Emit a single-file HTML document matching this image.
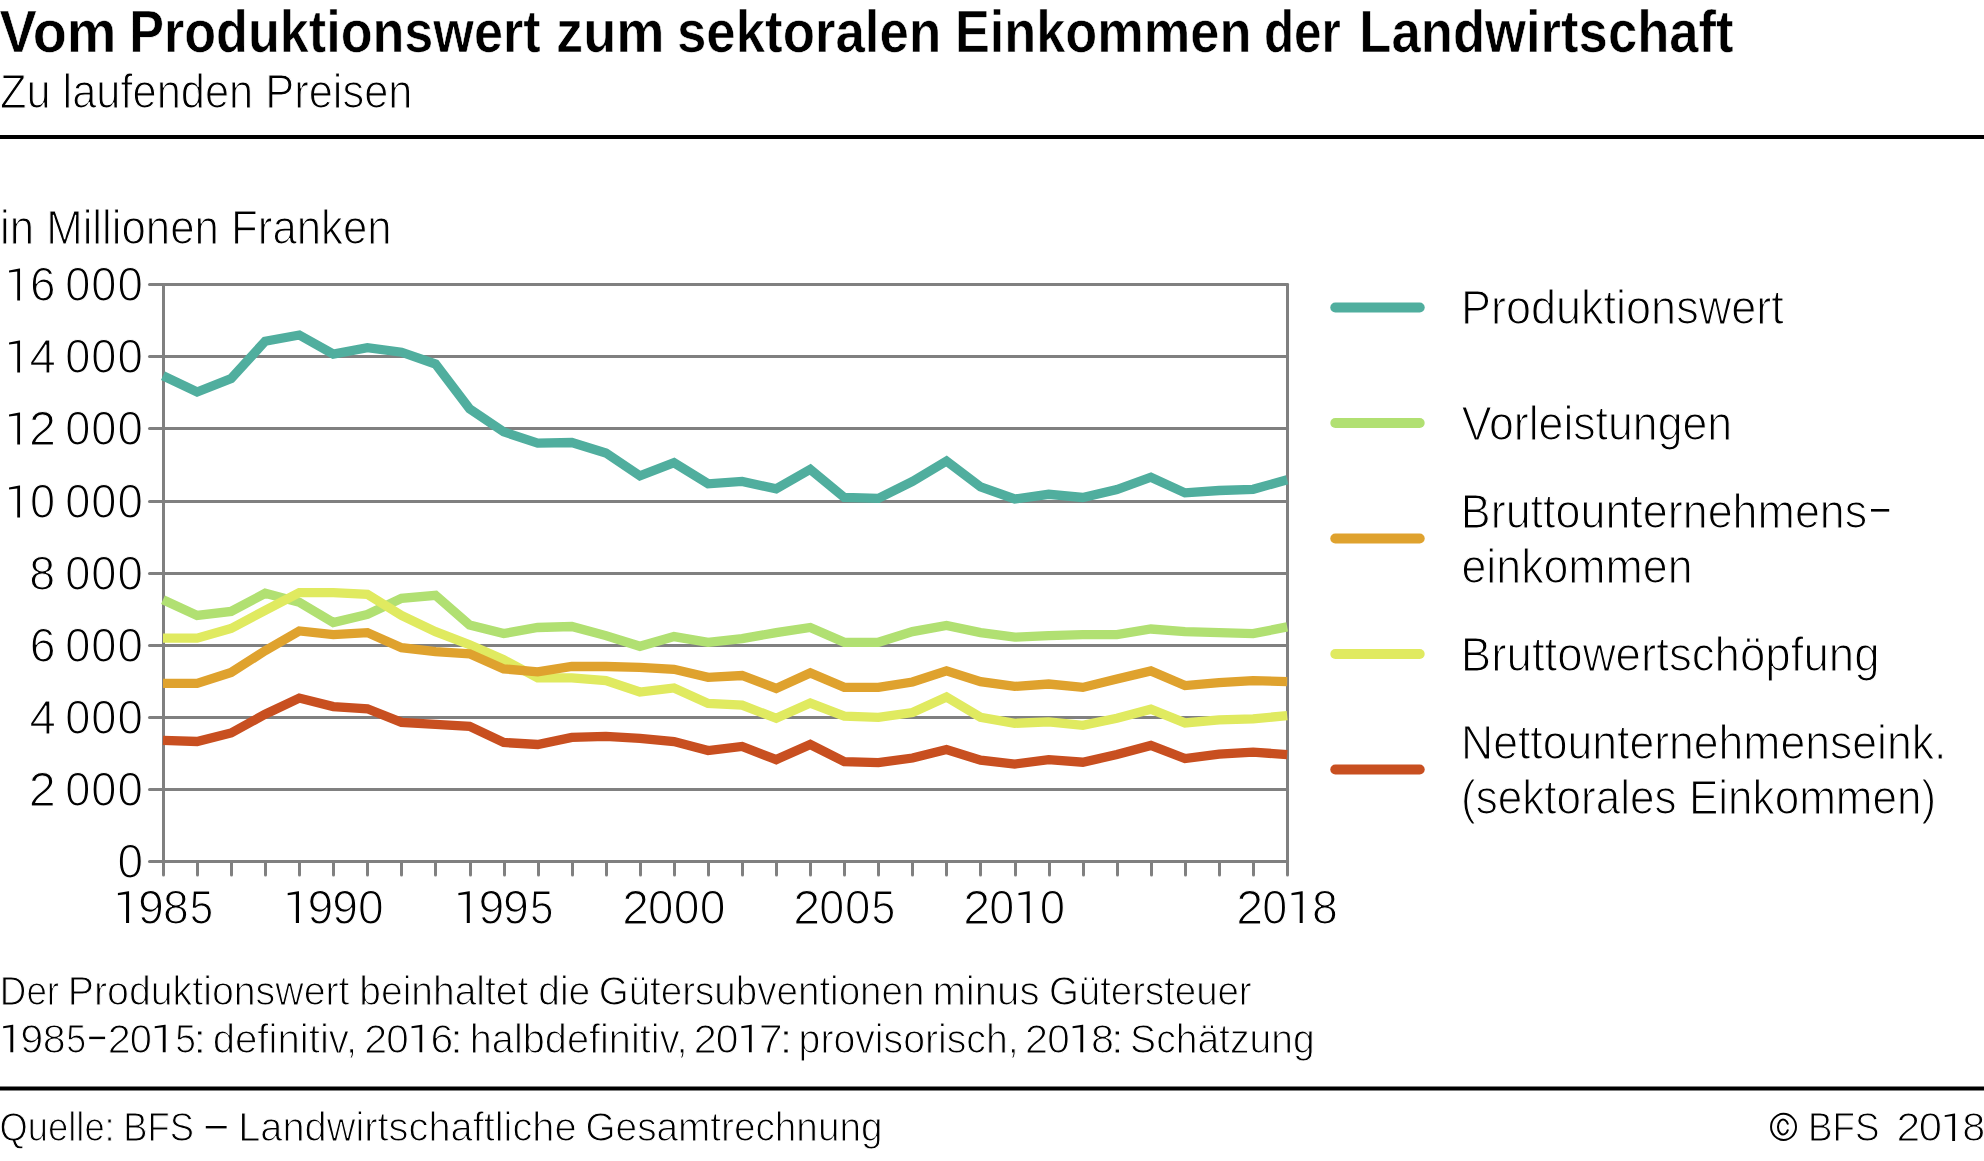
<!DOCTYPE html>
<html lang="de">
<head>
<meta charset="utf-8">
<title>Vom Produktionswert zum sektoralen Einkommen der Landwirtschaft</title>
<style>
html,body{margin:0;padding:0;background:#fff;}
body{width:1984px;height:1161px;overflow:hidden;}
svg{display:block;will-change:transform;}
text{font-family:"Liberation Sans",sans-serif;fill:#000;stroke:#fff;}
.t{font-weight:bold;font-size:58.3px;stroke-width:0.6px;}
.b{font-size:47.6px;stroke-width:1.2px;}
.s{font-size:41.2px;stroke-width:1.1px;}
.d{word-spacing:-1.6px;}
</style>
</head>
<body>
<svg width="1984" height="1161" viewBox="0 0 1984 1161">
<rect x="0" y="0" width="1984" height="1161" fill="#fff"/>

<rect x="0" y="135" width="1984" height="4" fill="#000"/>
<rect x="0" y="1086.5" width="1984" height="4" fill="#000"/>
<text class="b" x="-0.12" y="108.10" textLength="412.52" lengthAdjust="spacingAndGlyphs">Zu laufenden Preisen</text>
<text class="b" x="-0.07" y="244.30" textLength="391.71" lengthAdjust="spacingAndGlyphs">in Millionen Franken</text>
<text class="b" x="1461.01" y="324.40" textLength="322.65" lengthAdjust="spacingAndGlyphs">Produktionswert</text>
<text class="b" x="1461.64" y="439.90" textLength="270.55" lengthAdjust="spacingAndGlyphs">Vorleistungen</text>
<text class="b" x="1460.84" y="527.80" textLength="406.37" lengthAdjust="spacingAndGlyphs">Bruttounternehmens</text>
<text class="b" x="1461.48" y="583.20" textLength="231.14" lengthAdjust="spacingAndGlyphs">einkommen</text>
<text class="b" x="1460.87" y="670.90" textLength="418.69" lengthAdjust="spacingAndGlyphs">Bruttowertschöpfung</text>
<text class="b" x="1460.96" y="758.60" textLength="485.45" lengthAdjust="spacingAndGlyphs">Nettounternehmenseink.</text>
<text class="b" x="1461.08" y="814.00" textLength="475.22" lengthAdjust="spacingAndGlyphs">(sektorales Einkommen)</text>
<text class="t" x="-0.46" y="51.90" textLength="116.91" lengthAdjust="spacingAndGlyphs">Vom</text>
<text class="t" x="129.18" y="51.90" textLength="411.39" lengthAdjust="spacingAndGlyphs">Produktionswert</text>
<text class="t" x="556.09" y="51.90" textLength="108.47" lengthAdjust="spacingAndGlyphs">zum</text>
<text class="t" x="676.94" y="51.90" textLength="264.23" lengthAdjust="spacingAndGlyphs">sektoralen</text>
<text class="t" x="954.90" y="51.90" textLength="296.54" lengthAdjust="spacingAndGlyphs">Einkommen</text>
<text class="t" x="1263.88" y="51.90" textLength="76.99" lengthAdjust="spacingAndGlyphs">der</text>
<text class="t" x="1359.33" y="51.90" textLength="374.30" lengthAdjust="spacingAndGlyphs">Landwirtschaft</text>
<text class="s" x="-0.16" y="1005.15" textLength="59.22" lengthAdjust="spacingAndGlyphs">Der</text>
<text class="s" x="67.75" y="1005.15" textLength="281.74" lengthAdjust="spacingAndGlyphs">Produktionswert</text>
<text class="s" x="359.31" y="1005.15" textLength="169.02" lengthAdjust="spacingAndGlyphs">beinhaltet</text>
<text class="s" x="538.23" y="1005.15" textLength="51.98" lengthAdjust="spacingAndGlyphs">die</text>
<text class="s" x="598.67" y="1005.15" textLength="325.76" lengthAdjust="spacingAndGlyphs">Gütersubventionen</text>
<text class="s" x="932.41" y="1005.15" textLength="107.13" lengthAdjust="spacingAndGlyphs">minus</text>
<text class="s" x="1048.93" y="1005.15" textLength="202.74" lengthAdjust="spacingAndGlyphs">Gütersteuer</text>
<text class="s" x="212.69" y="1052.55" textLength="144.40" lengthAdjust="spacingAndGlyphs">definitiv,</text>
<text class="s" x="469.74" y="1052.55" textLength="217.85" lengthAdjust="spacingAndGlyphs">halbdefinitiv,</text>
<text class="s" x="798.62" y="1052.55" textLength="220.04" lengthAdjust="spacingAndGlyphs">provisorisch,</text>
<text class="s" x="1130.10" y="1052.55" textLength="184.55" lengthAdjust="spacingAndGlyphs">Schätzung</text>
<text class="s" x="-0.39" y="1141.45" textLength="115.06" lengthAdjust="spacingAndGlyphs">Quelle:</text>
<text class="s" x="123.36" y="1141.45" textLength="70.74" lengthAdjust="spacingAndGlyphs">BFS</text>
<text class="s" x="238.18" y="1141.45" textLength="338.46" lengthAdjust="spacingAndGlyphs">Landwirtschaftliche</text>
<text class="s" x="585.49" y="1141.45" textLength="297.01" lengthAdjust="spacingAndGlyphs">Gesamtrechnung</text>
<text class="s" x="1808.05" y="1141.45" textLength="71.47" lengthAdjust="spacingAndGlyphs">BFS</text>
<rect x="1871" y="509" width="18.2" height="2.6" fill="#000"/>
<rect x="205.8" y="1126" width="20.8" height="2.4" fill="#000"/>
<g stroke="#808080" stroke-width="3" fill="none" stroke-linecap="round">
<line x1="149.5" y1="284.5" x2="1287.5" y2="284.5"/>
<line x1="149.5" y1="356.5" x2="1287.5" y2="356.5"/>
<line x1="149.5" y1="428.5" x2="1287.5" y2="428.5"/>
<line x1="149.5" y1="501.5" x2="1287.5" y2="501.5"/>
<line x1="149.5" y1="573.5" x2="1287.5" y2="573.5"/>
<line x1="149.5" y1="645.5" x2="1287.5" y2="645.5"/>
<line x1="149.5" y1="717.5" x2="1287.5" y2="717.5"/>
<line x1="149.5" y1="789.5" x2="1287.5" y2="789.5"/>
<line x1="149.5" y1="861.5" x2="1287.5" y2="861.5"/>
<line x1="163.5" y1="284.5" x2="163.5" y2="875.1"/>
<line x1="1287.5" y1="284.5" x2="1287.5" y2="875.1"/>
<line x1="197.5" y1="861.5" x2="197.5" y2="875.1"/>
<line x1="231.5" y1="861.5" x2="231.5" y2="875.1"/>
<line x1="265.5" y1="861.5" x2="265.5" y2="875.1"/>
<line x1="299.5" y1="861.5" x2="299.5" y2="875.1"/>
<line x1="333.5" y1="861.5" x2="333.5" y2="875.1"/>
<line x1="367.5" y1="861.5" x2="367.5" y2="875.1"/>
<line x1="401.5" y1="861.5" x2="401.5" y2="875.1"/>
<line x1="435.5" y1="861.5" x2="435.5" y2="875.1"/>
<line x1="470.5" y1="861.5" x2="470.5" y2="875.1"/>
<line x1="504.5" y1="861.5" x2="504.5" y2="875.1"/>
<line x1="538.5" y1="861.5" x2="538.5" y2="875.1"/>
<line x1="572.5" y1="861.5" x2="572.5" y2="875.1"/>
<line x1="606.5" y1="861.5" x2="606.5" y2="875.1"/>
<line x1="640.5" y1="861.5" x2="640.5" y2="875.1"/>
<line x1="674.5" y1="861.5" x2="674.5" y2="875.1"/>
<line x1="708.5" y1="861.5" x2="708.5" y2="875.1"/>
<line x1="742.5" y1="861.5" x2="742.5" y2="875.1"/>
<line x1="776.5" y1="861.5" x2="776.5" y2="875.1"/>
<line x1="810.5" y1="861.5" x2="810.5" y2="875.1"/>
<line x1="844.5" y1="861.5" x2="844.5" y2="875.1"/>
<line x1="878.5" y1="861.5" x2="878.5" y2="875.1"/>
<line x1="912.5" y1="861.5" x2="912.5" y2="875.1"/>
<line x1="946.5" y1="861.5" x2="946.5" y2="875.1"/>
<line x1="980.5" y1="861.5" x2="980.5" y2="875.1"/>
<line x1="1015.5" y1="861.5" x2="1015.5" y2="875.1"/>
<line x1="1049.5" y1="861.5" x2="1049.5" y2="875.1"/>
<line x1="1083.5" y1="861.5" x2="1083.5" y2="875.1"/>
<line x1="1117.5" y1="861.5" x2="1117.5" y2="875.1"/>
<line x1="1151.5" y1="861.5" x2="1151.5" y2="875.1"/>
<line x1="1185.5" y1="861.5" x2="1185.5" y2="875.1"/>
<line x1="1219.5" y1="861.5" x2="1219.5" y2="875.1"/>
<line x1="1253.5" y1="861.5" x2="1253.5" y2="875.1"/>
</g>
<polygon points="20.04,300.40 20.04,268.60 19.24,268.60 9.05,270.40 9.05,272.50 17.24,271.50 17.24,300.40" fill="#000"/>
<text class="b" transform="translate(30.07,300.85) scale(0.9652,1)">6</text>
<text class="b" transform="translate(65.28,300.85) scale(0.9497,1)">0</text>
<text class="b" transform="translate(91.33,300.85) scale(0.9493,1)">0</text>
<text class="b" transform="translate(117.42,300.85) scale(0.9581,1)">0</text>
<polygon points="20.04,372.40 20.04,340.60 19.24,340.60 9.05,342.40 9.05,344.50 17.24,343.50 17.24,372.40" fill="#000"/>
<text class="b" transform="translate(29.61,372.85) scale(0.9964,1)">4</text>
<text class="b" transform="translate(65.28,372.85) scale(0.9497,1)">0</text>
<text class="b" transform="translate(91.33,372.85) scale(0.9493,1)">0</text>
<text class="b" transform="translate(117.42,372.85) scale(0.9581,1)">0</text>
<polygon points="20.04,444.40 20.04,412.60 19.24,412.60 9.05,414.40 9.05,416.50 17.24,415.50 17.24,444.40" fill="#000"/>
<text class="b" transform="translate(28.96,444.85) scale(1.0191,1)">2</text>
<text class="b" transform="translate(65.28,444.85) scale(0.9497,1)">0</text>
<text class="b" transform="translate(91.33,444.85) scale(0.9493,1)">0</text>
<text class="b" transform="translate(117.42,444.85) scale(0.9581,1)">0</text>
<polygon points="20.04,517.40 20.04,485.60 19.24,485.60 9.05,487.40 9.05,489.50 17.24,488.50 17.24,517.40" fill="#000"/>
<text class="b" transform="translate(30.03,517.85) scale(0.9493,1)">0</text>
<text class="b" transform="translate(65.28,517.85) scale(0.9497,1)">0</text>
<text class="b" transform="translate(91.33,517.85) scale(0.9493,1)">0</text>
<text class="b" transform="translate(117.42,517.85) scale(0.9581,1)">0</text>
<text class="b" transform="translate(29.13,589.85) scale(0.9783,1)">8</text>
<text class="b" transform="translate(65.28,589.85) scale(0.9497,1)">0</text>
<text class="b" transform="translate(91.33,589.85) scale(0.9493,1)">0</text>
<text class="b" transform="translate(117.42,589.85) scale(0.9581,1)">0</text>
<text class="b" transform="translate(29.69,661.85) scale(0.9766,1)">6</text>
<text class="b" transform="translate(65.28,661.85) scale(0.9497,1)">0</text>
<text class="b" transform="translate(91.33,661.85) scale(0.9493,1)">0</text>
<text class="b" transform="translate(117.42,661.85) scale(0.9581,1)">0</text>
<text class="b" transform="translate(29.41,733.85) scale(0.9964,1)">4</text>
<text class="b" transform="translate(65.28,733.85) scale(0.9497,1)">0</text>
<text class="b" transform="translate(91.33,733.85) scale(0.9493,1)">0</text>
<text class="b" transform="translate(117.42,733.85) scale(0.9581,1)">0</text>
<text class="b" transform="translate(28.70,805.85) scale(1.0214,1)">2</text>
<text class="b" transform="translate(65.28,805.85) scale(0.9497,1)">0</text>
<text class="b" transform="translate(91.33,805.85) scale(0.9493,1)">0</text>
<text class="b" transform="translate(117.42,805.85) scale(0.9581,1)">0</text>
<text class="b" transform="translate(117.40,877.85) scale(0.9669,1)">0</text>
<polygon points="129.08,923.05 129.08,891.25 128.28,891.25 117.90,893.05 117.90,895.15 126.05,894.15 126.05,923.05" fill="#000"/>
<text class="b" transform="translate(137.92,923.50) scale(0.9760,1)">9</text>
<text class="b" transform="translate(162.88,923.50) scale(0.9742,1)">8</text>
<text class="b" transform="translate(189.81,923.50) scale(0.8862,1)">5</text>
<polygon points="299.00,923.05 299.00,891.25 298.20,891.25 287.70,893.05 287.70,895.15 295.87,894.15 295.87,923.05" fill="#000"/>
<text class="b" transform="translate(307.43,923.50) scale(0.9710,1)">9</text>
<text class="b" transform="translate(332.23,923.50) scale(0.9710,1)">9</text>
<text class="b" transform="translate(357.90,923.50) scale(0.9699,1)">0</text>
<polygon points="469.80,923.05 469.80,891.25 469.00,891.25 458.40,893.05 458.40,895.15 466.80,894.15 466.80,923.05" fill="#000"/>
<text class="b" transform="translate(478.43,923.50) scale(0.9733,1)">9</text>
<text class="b" transform="translate(503.02,923.50) scale(0.9760,1)">9</text>
<text class="b" transform="translate(530.11,923.50) scale(0.8862,1)">5</text>
<text class="b" transform="translate(622.19,923.50) scale(1.0076,1)">2</text>
<text class="b" transform="translate(648.02,923.50) scale(0.9581,1)">0</text>
<text class="b" transform="translate(673.69,923.50) scale(0.9713,1)">0</text>
<text class="b" transform="translate(699.69,923.50) scale(0.9713,1)">0</text>
<text class="b" transform="translate(793.16,923.50) scale(1.0173,1)">2</text>
<text class="b" transform="translate(819.25,923.50) scale(0.9436,1)">0</text>
<text class="b" transform="translate(844.92,923.50) scale(0.9581,1)">0</text>
<text class="b" transform="translate(871.59,923.50) scale(0.8995,1)">5</text>
<text class="b" transform="translate(963.16,923.50) scale(1.0173,1)">2</text>
<text class="b" transform="translate(989.25,923.50) scale(0.9436,1)">0</text>
<polygon points="1029.70,923.05 1029.70,891.25 1028.90,891.25 1018.50,893.05 1018.50,895.15 1026.70,894.15 1026.70,923.05" fill="#000"/>
<text class="b" transform="translate(1039.72,923.50) scale(0.9581,1)">0</text>
<text class="b" transform="translate(1236.16,923.50) scale(1.0173,1)">2</text>
<text class="b" transform="translate(1262.25,923.50) scale(0.9436,1)">0</text>
<polygon points="1302.70,923.05 1302.70,891.25 1301.90,891.25 1291.50,893.05 1291.50,895.15 1299.70,894.15 1299.70,923.05" fill="#000"/>
<text class="b" transform="translate(1311.88,923.50) scale(0.9760,1)">8</text>
<polygon points="13.23,1052.20 13.23,1024.80 12.54,1024.80 3.18,1026.35 3.18,1028.16 10.37,1027.30 10.37,1052.20" fill="#000"/>
<text class="s" transform="translate(20.27,1052.60) scale(1.0031,1)">9</text>
<text class="s" transform="translate(42.64,1052.60) scale(0.9988,1)">8</text>
<text class="s" transform="translate(66.29,1052.60) scale(0.8688,1)">5</text>
<text class="s" transform="translate(107.67,1052.60) scale(1.0054,1)">2</text>
<text class="s" transform="translate(129.69,1052.60) scale(0.9683,1)">0</text>
<polygon points="165.64,1052.20 165.64,1024.80 164.95,1024.80 154.74,1026.35 154.74,1028.16 162.80,1027.30 162.80,1052.20" fill="#000"/>
<text class="s" transform="translate(175.26,1052.60) scale(0.9061,1)">5</text>
<text class="s" transform="translate(192.75,1052.60) scale(1.2236,1)">:</text>
<text class="s" transform="translate(364.26,1052.60) scale(1.0006,1)">2</text>
<text class="s" transform="translate(386.24,1052.60) scale(0.9800,1)">0</text>
<polygon points="422.23,1052.20 422.23,1024.80 421.54,1024.80 411.55,1026.35 411.55,1028.16 419.48,1027.30 419.48,1052.20" fill="#000"/>
<text class="s" transform="translate(430.40,1052.60) scale(0.9926,1)">6</text>
<text class="s" transform="translate(449.55,1052.60) scale(1.2236,1)">:</text>
<text class="s" transform="translate(693.72,1052.60) scale(1.0059,1)">2</text>
<text class="s" transform="translate(715.70,1052.60) scale(0.9906,1)">0</text>
<polygon points="751.70,1052.20 751.70,1024.80 751.01,1024.80 741.33,1026.35 741.33,1028.16 748.95,1027.30 748.95,1052.20" fill="#000"/>
<text class="s" transform="translate(758.68,1052.60) scale(1.0481,1)">7</text>
<text class="s" transform="translate(779.05,1052.60) scale(1.2236,1)">:</text>
<text class="s" transform="translate(1024.99,1052.60) scale(1.0059,1)">2</text>
<text class="s" transform="translate(1047.29,1052.60) scale(0.9805,1)">0</text>
<polygon points="1083.19,1052.20 1083.19,1024.80 1082.50,1024.80 1072.60,1026.35 1072.60,1028.16 1080.33,1027.30 1080.33,1052.20" fill="#000"/>
<text class="s" transform="translate(1090.89,1052.60) scale(1.0040,1)">8</text>
<text class="s" transform="translate(1110.53,1052.60) scale(1.1956,1)">:</text>
<text class="s" transform="translate(1896.59,1141.40) scale(1.0336,1)">2</text>
<text class="s" transform="translate(1918.72,1141.40) scale(1.0135,1)">0</text>
<polygon points="1955.06,1141.00 1955.06,1113.60 1954.37,1113.60 1944.75,1115.15 1944.75,1116.96 1952.18,1116.10 1952.18,1141.00" fill="#000"/>
<text class="s" transform="translate(1962.35,1141.40) scale(1.0035,1)">8</text>
<rect x="89.2" y="1036.7" width="15.9" height="2.4" fill="#000"/>
<ellipse cx="1783.53" cy="1126.82" rx="12.49" ry="13.1" fill="none" stroke="#000" stroke-width="1.96"/>
<path d="M1788.04 1124.41A5.2 7.5 0 1 0 1788.04 1129.55" fill="none" stroke="#000" stroke-width="2"/>
<polyline points="163.0,375.7 197.1,392.0 231.1,378.6 265.2,341.2 299.3,335.0 333.3,354.0 367.4,347.7 401.5,352.2 435.5,364.0 469.6,408.9 503.7,431.9 537.7,443.1 571.8,442.5 605.9,453.0 639.9,475.8 674.0,462.7 708.1,483.8 742.1,481.4 776.2,488.9 810.3,469.3 844.3,497.5 878.4,498.3 912.5,481.4 946.5,461.0 980.6,486.9 1014.7,499.0 1048.7,494.3 1082.8,497.5 1116.9,489.5 1150.9,477.2 1185.0,492.9 1219.1,490.5 1253.1,489.3 1287.2,479.8" fill="none" stroke="#50AE9E" stroke-width="9.3" stroke-linejoin="miter" stroke-miterlimit="10"/>
<polyline points="163.0,599.7 197.1,615.4 231.1,611.4 265.2,593.3 299.3,602.3 333.3,622.5 367.4,614.4 401.5,598.3 435.5,595.3 469.6,624.9 503.7,633.6 537.7,627.5 571.8,626.5 605.9,635.6 639.9,646.3 674.0,636.6 708.1,642.3 742.1,638.6 776.2,632.6 810.3,627.5 844.3,642.3 878.4,642.3 912.5,631.6 946.5,625.5 980.6,632.6 1014.7,637.2 1048.7,635.6 1082.8,634.6 1116.9,634.6 1150.9,629.0 1185.0,631.6 1219.1,632.6 1253.1,633.6 1287.2,626.9" fill="none" stroke="#B1E072" stroke-width="9.3" stroke-linejoin="miter" stroke-miterlimit="10"/>
<polyline points="163.0,638.2 197.1,638.2 231.1,628.5 265.2,610.4 299.3,592.7 333.3,592.7 367.4,594.3 401.5,615.4 435.5,631.6 469.6,644.7 503.7,659.8 537.7,677.9 571.8,677.9 605.9,680.6 639.9,692.0 674.0,688.0 708.1,703.5 742.1,705.2 776.2,718.3 810.3,703.1 844.3,716.2 878.4,717.3 912.5,712.6 946.5,697.1 980.6,717.3 1014.7,723.3 1048.7,721.9 1082.8,725.3 1116.9,718.3 1150.9,709.2 1185.0,722.9 1219.1,719.9 1253.1,718.9 1287.2,715.6" fill="none" stroke="#E0EA60" stroke-width="9.3" stroke-linejoin="miter" stroke-miterlimit="10"/>
<polyline points="163.0,683.4 197.1,683.4 231.1,672.5 265.2,650.7 299.3,631.0 333.3,634.6 367.4,632.6 401.5,647.7 435.5,651.7 469.6,653.8 503.7,668.9 537.7,671.9 571.8,666.5 605.9,666.5 639.9,667.3 674.0,669.3 708.1,677.3 742.1,675.5 776.2,688.4 810.3,672.9 844.3,687.4 878.4,687.4 912.5,682.0 946.5,670.9 980.6,681.6 1014.7,686.4 1048.7,684.0 1082.8,687.4 1116.9,679.0 1150.9,670.9 1185.0,685.6 1219.1,682.6 1253.1,680.6 1287.2,681.6" fill="none" stroke="#DFA22E" stroke-width="9.3" stroke-linejoin="miter" stroke-miterlimit="10"/>
<polyline points="163.0,740.4 197.1,741.5 231.1,733.0 265.2,714.2 299.3,698.1 333.3,706.6 367.4,708.8 401.5,722.3 435.5,724.3 469.6,726.3 503.7,742.5 537.7,744.5 571.8,737.4 605.9,736.4 639.9,738.4 674.0,741.5 708.1,750.5 742.1,746.5 776.2,759.6 810.3,744.5 844.3,761.6 878.4,762.6 912.5,758.0 946.5,749.5 980.6,760.2 1014.7,764.0 1048.7,759.6 1082.8,762.2 1116.9,754.6 1150.9,745.5 1185.0,758.6 1219.1,754.2 1253.1,752.1 1287.2,754.6" fill="none" stroke="#C84F20" stroke-width="9.3" stroke-linejoin="miter" stroke-miterlimit="10"/>
<line x1="1335.3" y1="307.5" x2="1419.7" y2="307.5" stroke="#50AE9E" stroke-width="10" stroke-linecap="round"/>
<line x1="1335.3" y1="423" x2="1419.7" y2="423" stroke="#B1E072" stroke-width="10" stroke-linecap="round"/>
<line x1="1335.3" y1="538.5" x2="1419.7" y2="538.5" stroke="#DFA22E" stroke-width="10" stroke-linecap="round"/>
<line x1="1335.3" y1="654" x2="1419.7" y2="654" stroke="#E0EA60" stroke-width="10" stroke-linecap="round"/>
<line x1="1335.3" y1="769.5" x2="1419.7" y2="769.5" stroke="#C84F20" stroke-width="10" stroke-linecap="round"/>
</svg>
</body>
</html>
